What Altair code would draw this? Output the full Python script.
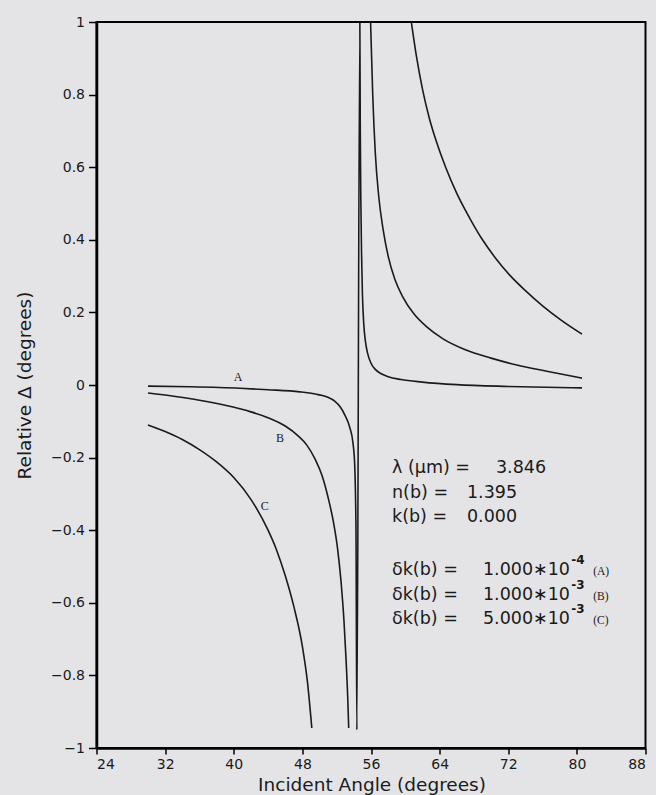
import altair as alt
import pandas as pd

# ---------------- data ----------------
# Curve A (single trace: left branch, jump across the asymptote, right branch)
a_angle = [30.0, 35.0, 40.7, 44.0, 47.7, 49.5, 50.9, 51.8, 52.4, 53.0, 53.5, 53.9, 54.1, 54.25, 54.35,
           54.7, 54.75, 54.82, 54.9, 55.0, 55.15, 55.35, 55.6, 56.0, 56.5, 57.2, 58.0, 59.5, 62.0, 66.0, 72.0, 80.6]
a_delta = [-0.003, -0.005, -0.009, -0.013, -0.019, -0.025, -0.033, -0.045, -0.06, -0.085, -0.115, -0.16, -0.22, -0.4, -0.95,
           1.0, 0.7, 0.5, 0.36, 0.25, 0.17, 0.12, 0.088, 0.06, 0.043, 0.031, 0.023, 0.015, 0.008, 0.001, -0.004, -0.008]

# Curve B
b_left_angle = [30.0, 33.0, 36.0, 39.0, 42.0, 44.0, 46.0, 47.5, 48.5, 49.5, 50.3, 51.0, 51.6, 52.1, 52.5,
                52.85, 53.1, 53.3, 53.4]
b_left_delta = [-0.022, -0.031, -0.042, -0.056, -0.074, -0.09, -0.113, -0.14, -0.165, -0.205, -0.25, -0.31,
                -0.375, -0.45, -0.54, -0.65, -0.76, -0.87, -0.945]
b_right_angle = [55.95, 56.2, 56.5, 56.9, 57.4, 58.0, 58.8, 59.7, 61.0, 62.5, 64.4, 67.0, 70.0, 73.0, 76.5, 80.6]
b_right_delta = [1.0, 0.80, 0.64, 0.52, 0.43, 0.355, 0.29, 0.243, 0.196, 0.16, 0.127, 0.097, 0.074, 0.055, 0.038, 0.019]

# Curve C
c_left_angle = [30.0, 32.0, 34.0, 36.0, 38.0, 40.0, 42.0, 44.0, 45.0, 46.0, 47.0, 48.0, 48.6, 49.1]
c_left_delta = [-0.11, -0.128, -0.15, -0.178, -0.212, -0.255, -0.315, -0.40, -0.455, -0.525, -0.61, -0.72,
                -0.82, -0.945]
c_right_angle = [60.7, 61.3, 62.0, 62.8, 63.7, 64.7, 66.0, 67.5, 69.0, 70.5, 72.2, 74.0, 76.0, 78.2, 80.6]
c_right_delta = [1.0, 0.905, 0.815, 0.735, 0.665, 0.60, 0.528, 0.46, 0.40, 0.35, 0.302, 0.26, 0.218, 0.178, 0.14]

# Axis ticks
x_ticks = [24, 32, 40, 48, 56, 64, 72, 80, 88]
y_ticks = [-1.0, -0.8, -0.6, -0.4, -0.2, 0.0, 0.2, 0.4, 0.6, 0.8, 1.0]

# Curve tags
tag_text = ["A", "B", "C"]

# Parameter block
param_labels = ["λ (μm) =", "n(b) =", "k(b) =", "δk(b) =", "δk(b) =", "δk(b) ="]
param_values = ["3.846", "1.395", "0.000", "1.000∗10", "1.000∗10", "5.000∗10"]
param_exps = ["-4", "-3", "-3"]
param_tags = ["(A)", "(B)", "(C)"]

# ---------------- build tables ----------------
rows = []
for trace, xs_, ys_ in [("A", a_angle, a_delta),
                        ("B1", b_left_angle, b_left_delta), ("B2", b_right_angle, b_right_delta),
                        ("C1", c_left_angle, c_left_delta), ("C2", c_right_angle, c_right_delta)]:
    for x, y in zip(xs_, ys_):
        rows.append({"trace": trace, "angle": x, "delta": y})
df = pd.DataFrame(rows)

# placement (data coordinates) of annotations
tag_pos_x = [40.5, 45.4, 43.6]
tag_pos_y = [0.022, -0.146, -0.333]
tags_df = pd.DataFrame({"t": tag_text, "x": tag_pos_x, "y": tag_pos_y})

line_y = [-0.229, -0.298, -0.364, -0.510, -0.579, -0.645]
lab_df = pd.DataFrame({"t": param_labels, "x": [58.45] * 6, "y": line_y})
val_df = pd.DataFrame({"t": param_values, "x": [70.57, 67.19, 67.19, 69.05, 69.05, 69.05], "y": line_y})
exp_df = pd.DataFrame({"t": param_exps, "x": [79.35] * 3, "y": [v + 0.027 for v in line_y[3:]]})
ptag_df = pd.DataFrame({"t": param_tags, "x": [81.9] * 3, "y": [v - 0.006 for v in line_y[3:]]})

xs = alt.Scale(domain=[24, 88], nice=False, zero=False)
ys = alt.Scale(domain=[-1, 1], nice=False, zero=False)

base_x = alt.X("angle:Q", scale=xs,
               axis=alt.Axis(values=x_ticks, format="d", title="Incident Angle (degrees)",
                             grid=False, tickSize=6, labelPadding=3,
                             titleX=275, titleY=36, titleBaseline="middle"))
base_y = alt.Y("delta:Q", scale=ys,
               axis=alt.Axis(values=y_ticks, format=".1~f", title="Relative Δ  (degrees)",
                             grid=False, tickSize=8, labelPadding=4,
                             titleX=-72, titleY=363, titleAngle=-90,
                             titleBaseline="middle", titleAlign="center"))

lines = alt.Chart(df).mark_line(color="#1a1a1a", strokeWidth=1.6, interpolate="monotone", clip=True).encode(
    x=base_x, y=base_y, detail="trace:N", order="angle:Q")

def text_layer(data, size, font, align="left", weight="normal"):
    return alt.Chart(data).mark_text(align=align, baseline="middle", fontSize=size, font=font,
                                     fontWeight=weight, color="#1a1a1a").encode(
        x=alt.X("x:Q", scale=xs), y=alt.Y("y:Q", scale=ys), text="t:N")

tags = text_layer(tags_df, 12, "Liberation Serif", align="center")
labs = text_layer(lab_df, 17.5, "DejaVu Sans")
vals = text_layer(val_df, 17.5, "DejaVu Sans")
exps = text_layer(exp_df, 12, "DejaVu Sans", weight="bold")
ptags = text_layer(ptag_df, 11.5, "Liberation Serif")

chart = alt.layer(lines, tags, labs, vals, exps, ptags).properties(
    width=549, height=726,
    autosize="none",
    padding={"left": 96.5, "top": 22, "right": 10.5, "bottom": 47},
    background="#e4e4e6",
).configure_view(
    stroke="black", strokeWidth=2
).configure_axis(
    labelFont="DejaVu Sans", labelFontSize=14, labelColor="#1a1a1a",
    titleFont="DejaVu Sans", titleFontSize=18.5, titleFontWeight="normal", titleColor="#1a1a1a",
    domainColor="black", domainWidth=2.5, tickColor="black", tickWidth=1.5,
)

chart.save("out.html", embed_options={"renderer": "svg", "actions": False})
